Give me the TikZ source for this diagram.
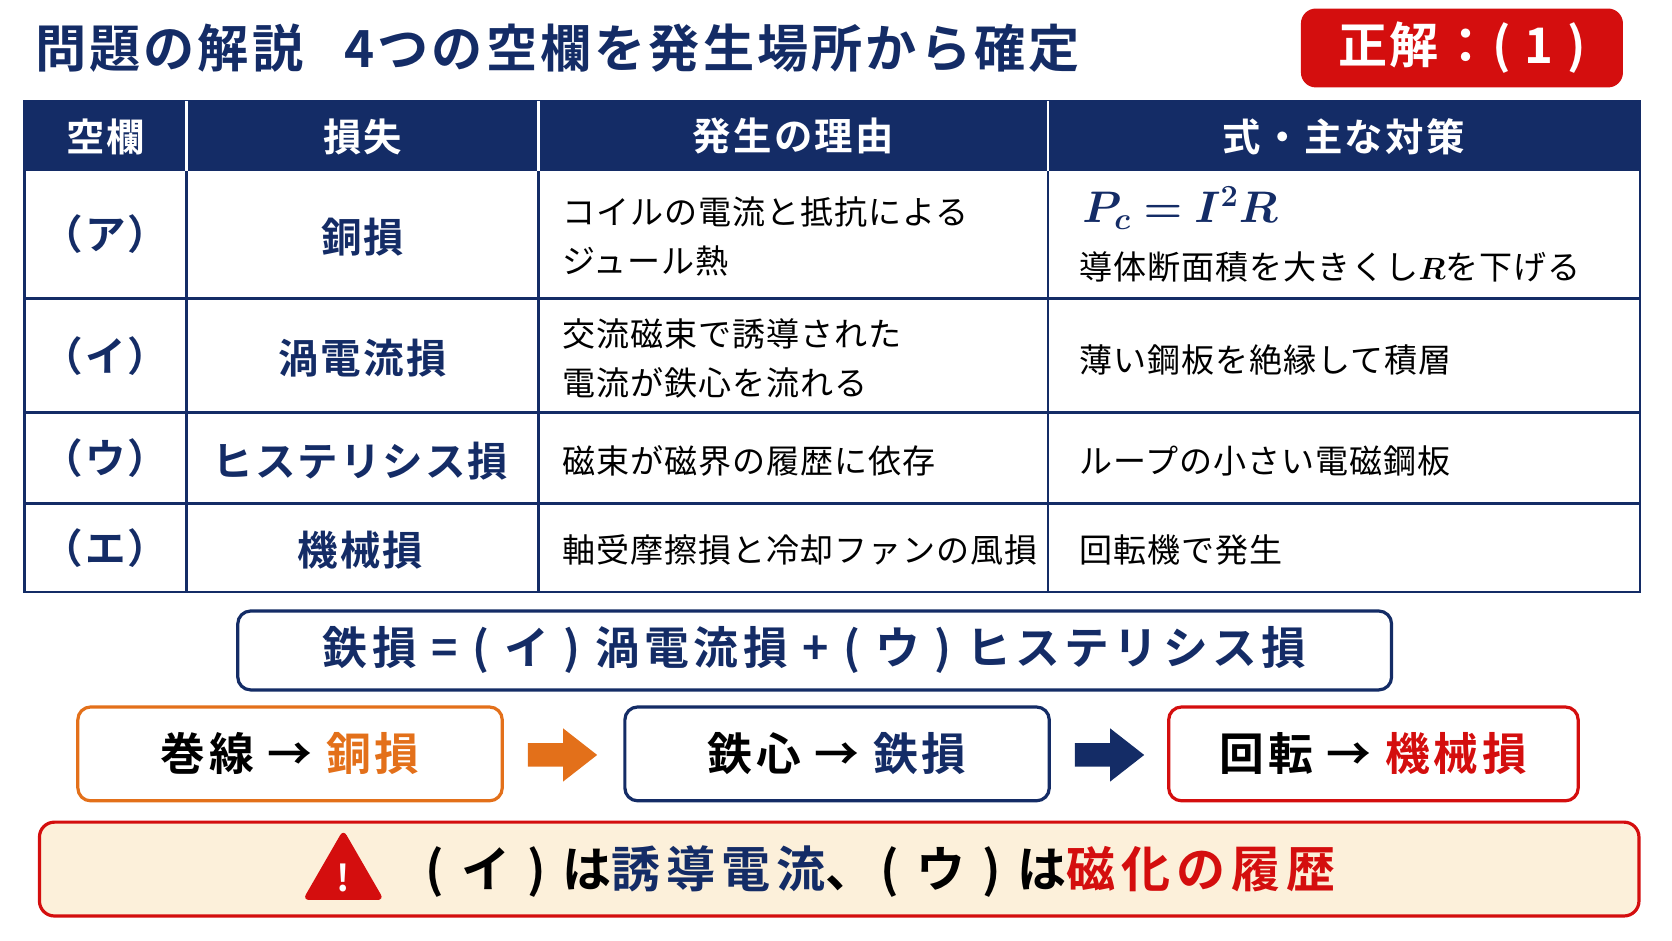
\documentclass[tikz,border=0pt]{standalone}
\usepackage{amsmath,bm}
\usepackage{fontspec}
\setmainfont{Noto Sans CJK JP}[BoldFont={Noto Sans CJK JP Bold}]
\usetikzlibrary{shapes.arrows,shapes.geometric}
\definecolor{navy}{HTML}{142C66}
\definecolor{rd}{HTML}{D40E0E}
\definecolor{org}{HTML}{E3701A}
\definecolor{cream}{HTML}{FCF0DA}
\newcommand{\ls}[1]{\addfontfeature{LetterSpace=#1}}
\begin{document}
\begin{tikzpicture}[x=0.5pt,y=-0.5pt,
  hd/.style={text=white,font=\bfseries\fontsize{18}{20}\selectfont\ls{6}},
  c1/.style={text=navy,font=\bfseries\fontsize{19}{20}\selectfont\ls{5}},
  c3/.style={anchor=west,align=left,text=black,font=\fontsize{15.5}{23}\selectfont\ls{3}},
  box/.style={draw,line width=1.5pt,rounded corners=6pt,minimum height=44pt},
  big/.style={font=\bfseries\fontsize{21}{24}\selectfont\ls{8}}]
\useasboundingbox (0,0) rectangle (1568,882);
\node[anchor=west,text=navy,font=\bfseries\fontsize{24}{26}\selectfont\ls{6}] (title) at (26,45) {問題の解説\hspace{0.8em}4つの空欄を発生場所から確定};
\node[fill=rd,rounded corners=7pt,minimum width=151pt,minimum height=37pt,text=white,font=\bfseries\fontsize{23}{24}\selectfont\ls{5}] (ans) at (1371,45) {正解：( 1 )};
% table
\fill[navy] (23,95) rectangle (1538,160);
\draw[navy,line width=1.2pt] (23,95) rectangle (1538,555);
\foreach \y in {280,387,472} \draw[navy,line width=1.2pt] (23,\y) -- (1538,\y);
\foreach \x in {175,505,983} \draw[navy,line width=1.2pt] (\x,160) -- (\x,555);
\foreach \x in {175,505,983} \draw[white,line width=1.2pt] (\x,95) -- (\x,160);
\node[hd] (h1) at (99,128) {空欄};
\node[hd] (h2) at (340,128) {損失};
\node[hd] (h3) at (744,128) {発生の理由};
\node[hd] (h4) at (1260,128) {式・主な対策};
\node[c1] (a1) at (99,220) {（ア）};
\node[c1] (a2) at (99,334) {（イ）};
\node[c1] (a3) at (99,430) {（ウ）};
\node[c1] (a4) at (99,514) {（エ）};
\node[c1] (b1) at (340,222) {銅損};
\node[c1] (b2) at (340,336) {渦電流損};
\node[c1] (b3) at (338,432) {ヒステリシス損};
\node[c1] (b4) at (338,516) {機械損};
\node[c3] (r1) at (520,222) {コイルの電流と抵抗による\\ジュール熱};
\node[c3] (r2) at (520,336) {交流磁束で誘導された\\電流が鉄心を流れる};
\node[c3] (r3) at (520,432) {磁束が磁界の履歴に依存};
\node[c3] (r4) at (520,516) {軸受摩擦損と冷却ファンの風損};
\node[anchor=west,text=navy,font=\fontsize{22}{24}\selectfont] (f) at (1008,195) {$\bm{P_c = I^2R}$};
\node[c3] (m1) at (1005,250) {導体断面積を大きくし$\bm{R}$を下げる};
\node[c3] (m2) at (1005,338) {薄い鋼板を絶縁して積層};
\node[c3] (m3) at (1005,432) {ループの小さい電磁鋼板};
\node[c3] (m4) at (1005,516) {回転機で発生};
% formula
\node[box,draw=navy,minimum width=541pt,minimum height=37pt,text=navy,font=\bfseries\fontsize{21}{22}\selectfont\ls{10}] (iron) at (764,610) {鉄損 = ( イ ) 渦電流損 + ( ウ ) ヒステリシス損};
\node[box,draw=org,minimum width=199pt,big] (k1) at (272,707) {巻線 → \textcolor{org}{銅損}};
\node[box,draw=navy,minimum width=199pt,big] (k2) at (785,707) {鉄心 → \textcolor{navy}{鉄損}};
\node[box,draw=rd,minimum width=192pt,big] (k3) at (1288,707) {回転 → \textcolor{rd}{機械損}};
\coordinate (ar1) at (495,708);
\coordinate (ar2) at (1008,708);
\foreach \c/\col in {ar1/org,ar2/navy}
  \fill[\col] ([yshift=5.5pt]\c) -- ++(33,0) -- ++(0,-14) -- ++(32,25) -- ++(-32,25) -- ++(0,-14) -- ++(-33,0) -- cycle;
% bottom
\node[draw=rd,fill=cream,line width=1.5pt,rounded corners=7pt,minimum width=750pt,minimum height=44pt] (warn) at (787,815) {};
\node[regular polygon,regular polygon sides=3,fill=rd,rounded corners=3pt,minimum size=44pt,inner sep=0pt] (tri) at (322,822) {};
\node[text=white,font=\bfseries\fontsize{17}{17}\selectfont] (ex) at (322,823) {!};
\node[anchor=west,font=\bfseries\fontsize{23}{24}\selectfont\ls{12}] (wt) at (392,817) {( イ ) は\textcolor{navy}{誘導電流}、( ウ ) は\textcolor{rd}{磁化の履歴}};
\end{tikzpicture}
\end{document}
